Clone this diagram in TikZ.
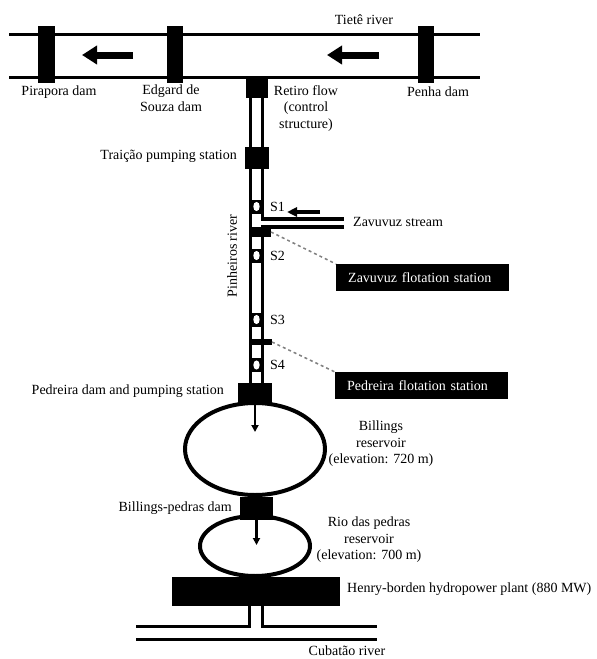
\documentclass[tikz,border=0pt]{standalone}
\usepackage{fontspec}
\setmainfont{Liberation Serif}
\usetikzlibrary{arrows.meta,calc,shapes.geometric}
\begin{document}
\begin{tikzpicture}[x=1pt,y=-1pt,
  blk/.style={fill=black,draw=none,inner sep=0pt,outer sep=0pt,rectangle},
  lbl/.style={font=\fontsize{14}{16.5}\selectfont,inner sep=0pt,align=center},
  river/.style={line width=3pt},
  chan/.style={line width=3.8pt,miter limit=10},
  bigflow/.style={line width=7pt,-{Triangle[length=15pt,width=18pt]}},
  smflow/.style={line width=4pt,-{Triangle[length=10pt,width=9pt]}},
  resflow/.style={line width=2.4pt,-{Triangle[length=7pt,width=7pt]}},
  res/.style={ellipse,draw,line width=4pt,inner sep=0pt},
  smark/.style={blk,minimum width=12pt,minimum height=14pt},
  flot/.style={fill=black,text=white,font=\fontsize{14}{16.5}\selectfont,inner xsep=12pt,inner ysep=0pt,minimum height=27pt,text width=149pt,align=left,anchor=north west},
  leader/.style={dashed,gray,line width=1.5pt,dash pattern=on 3pt off 3pt}
]
\useasboundingbox (0,0) rectangle (597,659);

% ---------- Tiete river ----------
\draw[river] (9,34) -- (480,34);
\draw[river] (9,77) -- (480,77);
\node[blk,minimum width=17pt,minimum height=57pt] (pirapora) at (46.5,54.5) {};
\node[blk,minimum width=16pt,minimum height=57pt] (edgard) at (175,54.5) {};
\node[blk,minimum width=16pt,minimum height=57pt] (penha) at (426,54.5) {};
\coordinate (a1s) at (133,55); \coordinate (a1e) at (82,55);
\coordinate (a2s) at (379,55); \coordinate (a2e) at (327,55);
\draw[bigflow] (a1s) -- (a1e);
\draw[bigflow] (a2s) -- (a2e);
\node[lbl] (tiete) at (364,20) {Tietê river};
\node[lbl] (lpira) at (59,92) {Pirapora dam};
\node[lbl,anchor=north] (ledg) at (171,85) {Edgard de\\Souza dam};
\node[lbl,anchor=north] (lret) at (306,85) {Retiro flow\\(control\\structure)};
\node[lbl] (lpen) at (438,92) {Penha dam};

% ---------- Pinheiros channel ----------
\coordinate (cL) at (250.5,0);
\coordinate (cR) at (262.5,0);
\node[blk,minimum width=22pt,minimum height=21pt] (retiro) at (256.5,87) {};
\node[blk,minimum width=24pt,minimum height=22pt] (traicao) at (256.5,158) {};
\node[blk,minimum width=34pt,minimum height=20pt] (pdam) at (255,393) {};
\coordinate (zsT) at (344,219);
\coordinate (zsB) at (344,227);

\draw[chan] (retiro.south -| cL) -- (traicao.north -| cL);
\draw[chan] (retiro.south -| cR) -- (traicao.north -| cR);
\draw[chan] (traicao.south -| cL) -- (pdam.north -| cL);
\draw[chan] (traicao.south -| cR) -- (zsT -| cR) -- (zsT);
\draw[chan] (zsB) -- (zsB -| cR) -- (pdam.north -| cR);

% sampling points
\foreach \n/\y in {1/206.5,2/255.5,3/319.5,4/365}{
  \node[smark] (s\n) at (256.5,\y) {};
  \fill[white] (s\n.center) ellipse (3.2pt and 4.6pt);
  \node[lbl,anchor=west] (ls\n) at (270,\y) {S\n};
}
% flotation stations
\node[blk,minimum width=21pt,minimum height=10pt,anchor=north west] (zflot) at (250,227) {};
\node[blk,minimum width=22pt,minimum height=6pt,anchor=north west] (pflot) at (250,339) {};

\coordinate (zas) at (320,212); \coordinate (zae) at (287,212);
\draw[smflow] (zas) -- (zae);
\node[lbl,anchor=west] (lzav) at (353,222) {Zavuvuz stream};

\node[flot] (zbox) at (336,264) {Zavuvuz flotation station};
\node[flot] (pbox) at (335,372) {Pedreira flotation station};
\draw[leader] (zflot.east) -- (zbox.north west);
\draw[leader] (pflot.east) -- (pbox.north west);

\node[lbl,anchor=east] (ltrai) at (237,156) {Traição pumping station};
\node[lbl,rotate=90] (lpin) at (232,256) {Pinheiros river};
\node[lbl,anchor=east] (lpdam) at (224,391) {Pedreira dam and pumping station};

% ---------- Reservoirs ----------
\node[res,minimum width=140pt,minimum height=92pt] (billings) at (255,449) {};
\node[res,minimum width=110pt,minimum height=60pt] (rio) at (255,546) {};
\node[blk,minimum width=34pt,minimum height=20pt] (pdam2) at (255,393) {};
\node[blk,minimum width=33pt,minimum height=23pt] (bpdam) at (256.5,508.5) {};
\node[blk,minimum width=168pt,minimum height=29pt] (henry) at (256,591.5) {};

\draw[resflow] (pdam.south) -- ($(pdam.south)+(0,29)$);
\draw[resflow] (bpdam.south) -- ($(bpdam.south)+(0,25)$);

\node[lbl] (lbill) at (381,444) {Billings\\reservoir\\(elevation: 720 m)};
\node[lbl,anchor=east] (lbpd) at (232,508) {Billings-pedras dam};
\node[lbl] (lrio) at (369,540) {Rio das pedras\\reservoir\\(elevation: 700 m)};
\node[lbl,anchor=west] (lhen) at (347,589) {Henry-borden hydropower plant (880 MW)};

% ---------- Cubatao river ----------
\coordinate (oL) at (249,0);
\coordinate (oR) at (262,0);
\coordinate (cub1) at (136,626);
\coordinate (cub2) at (377,626);
\coordinate (cub3) at (136,639);
\coordinate (cub4) at (377,639);
\draw[river] (cub1) -- (cub1 -| oL) -- (henry.south -| oL);
\draw[river] (henry.south -| oR) -- (cub2 -| oR) -- (cub2);
\draw[river] (cub3) -- (cub4);
\node[lbl,anchor=base] (lcub) at (347,655) {Cubatão river};
\end{tikzpicture}
\end{document}
